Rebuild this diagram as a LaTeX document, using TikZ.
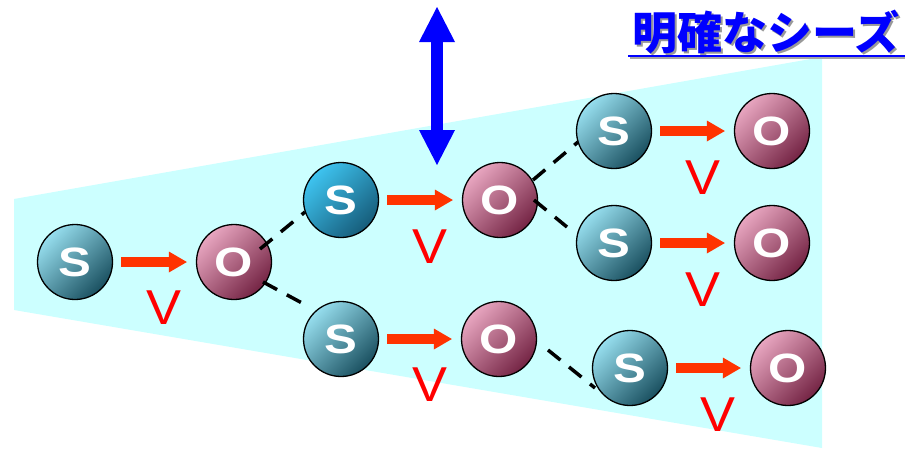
\documentclass[tikz,border=0pt]{standalone}
\usepackage{fontspec}
\usepackage{graphicx}
\newfontfamily\lsans{Liberation Sans}
\newfontfamily\cjk{Noto Sans CJK JP}
\usetikzlibrary{arrows.meta,calc}
\definecolor{bgcyan}{RGB}{204,255,255}
\definecolor{sLight}{RGB}{150,222,238}
\definecolor{sDark}{RGB}{26,80,96}
\definecolor{sbLight}{RGB}{62,196,240}
\definecolor{sbDark}{RGB}{22,92,122}
\definecolor{oLight}{RGB}{232,166,192}
\definecolor{oDark}{RGB}{116,36,68}
\definecolor{arrowred}{RGB}{255,51,0}
\definecolor{vred}{RGB}{255,0,0}
\definecolor{titleblue}{RGB}{0,0,255}
\newcommand\wide[1]{\scalebox{1.2}[1]{#1}}
\begin{document}
\begin{tikzpicture}[x=1pt,y=-1pt,
  ball/.style={circle, minimum size=75pt, inner sep=0pt, draw=black, line width=1.3pt,
    text=white, font=\lsans\bfseries\fontsize{41}{41}\selectfont},
  sball/.style={ball, top color=sLight, bottom color=sDark, shading angle=45},
  sbball/.style={ball, top color=sbLight, bottom color=sbDark, shading angle=45},
  oball/.style={ball, top color=oLight, bottom color=oDark, shading angle=45},
  redarrow/.style={draw=arrowred, line width=10pt, shorten <=8pt, shorten >=9pt,
    -{Triangle[length=18pt,width=21pt,line width=0pt]}},
  vlab/.style={inner sep=0pt, text=vred, font=\lsans\fontsize{49}{49}\selectfont},
  dline/.style={draw=black, line width=3.5pt, dash pattern=on 16pt off 11pt},
  titlefont/.style={inner sep=0pt, anchor=base west, font=\cjk\bfseries\fontsize{45}{45}\selectfont}
]
\useasboundingbox (0,0) rectangle (905,448);
% background band
\fill[bgcyan] (14,199) -- (822,57) -- (822,448) -- (14,310) -- cycle;

% title with shadow
\node[titlefont, text=black!40] (tshadow) at (634,51) {明確なシーズ};
\node[titlefont, text=titleblue] (title) at (632,49) {明確なシーズ};
\coordinate (ulA) at (628,56);
\coordinate (ulB) at (905,56);
\draw[black!35, line width=2pt] ($(ulA)+(2,2)$) -- ($(ulB)+(0,2)$);
\draw[titleblue, line width=2.5pt] (ulA) -- (ulB);

% blue double arrow
\coordinate (bt) at (437,7);
\coordinate (bb) at (437,165);
\draw[titleblue, line width=12pt,
  {Triangle[length=35pt,width=36pt,line width=0pt]}-{Triangle[length=35pt,width=36pt,line width=0pt]}]
  (bt) -- (bb);

% spheres
\node[sball]  (S1) at (75,262)  {\wide{S}};
\node[oball]  (O1) at (234,262) {\wide{O}};
\node[sbball] (S2) at (341,200) {\wide{S}};
\node[oball]  (O2) at (500,200) {\wide{O}};
\node[sball]  (S3) at (341,339) {\wide{S}};
\node[oball]  (O3) at (499,339) {\wide{O}};
\node[sball]  (S4) at (614,131) {\wide{S}};
\node[oball]  (O4) at (772,131) {\wide{O}};
\node[sball]  (S5) at (614,243) {\wide{S}};
\node[oball]  (O5) at (772,243) {\wide{O}};
\node[sball]  (S6) at (630,368) {\wide{S}};
\node[oball]  (O6) at (788,368) {\wide{O}};

% red arrows
\draw[redarrow] (S1) -- (O1);
\draw[redarrow] (S2) -- (O2);
\draw[redarrow] (S3) -- (O3);
\draw[redarrow] (S4) -- (O4);
\draw[redarrow] (S5) -- (O5);
\draw[redarrow] (S6) -- (O6);

% V labels
\node[vlab] (V1) at (164,308) {\scalebox{1.07}[1]{V}};
\node[vlab] (V2) at (430,247) {\scalebox{1.07}[1]{V}};
\node[vlab] (V3) at (430,385) {\scalebox{1.07}[1]{V}};
\node[vlab] (V4) at (703,178) {\scalebox{1.07}[1]{V}};
\node[vlab] (V5) at (703,290) {\scalebox{1.07}[1]{V}};
\node[vlab] (V6) at (718,415) {\scalebox{1.07}[1]{V}};

% dashed links
\draw[dline] ($(O1)+(26,-13)$) -- ($(S2)+(-36,12)$);
\draw[dline] ($(O1)+(29,20)$) -- ($(S3)+(-39,-36)$);
\draw[dline] ($(O2)+(33,-20)$) -- ($(S4)+(-36,11)$);
\draw[dline] ($(O2)+(34,0)$) -- ($(S5)+(-47,-16)$);
\draw[dline] ($(O3)+(49,11)$) -- ($(S6)+(-35,20)$);
\end{tikzpicture}
\end{document}
